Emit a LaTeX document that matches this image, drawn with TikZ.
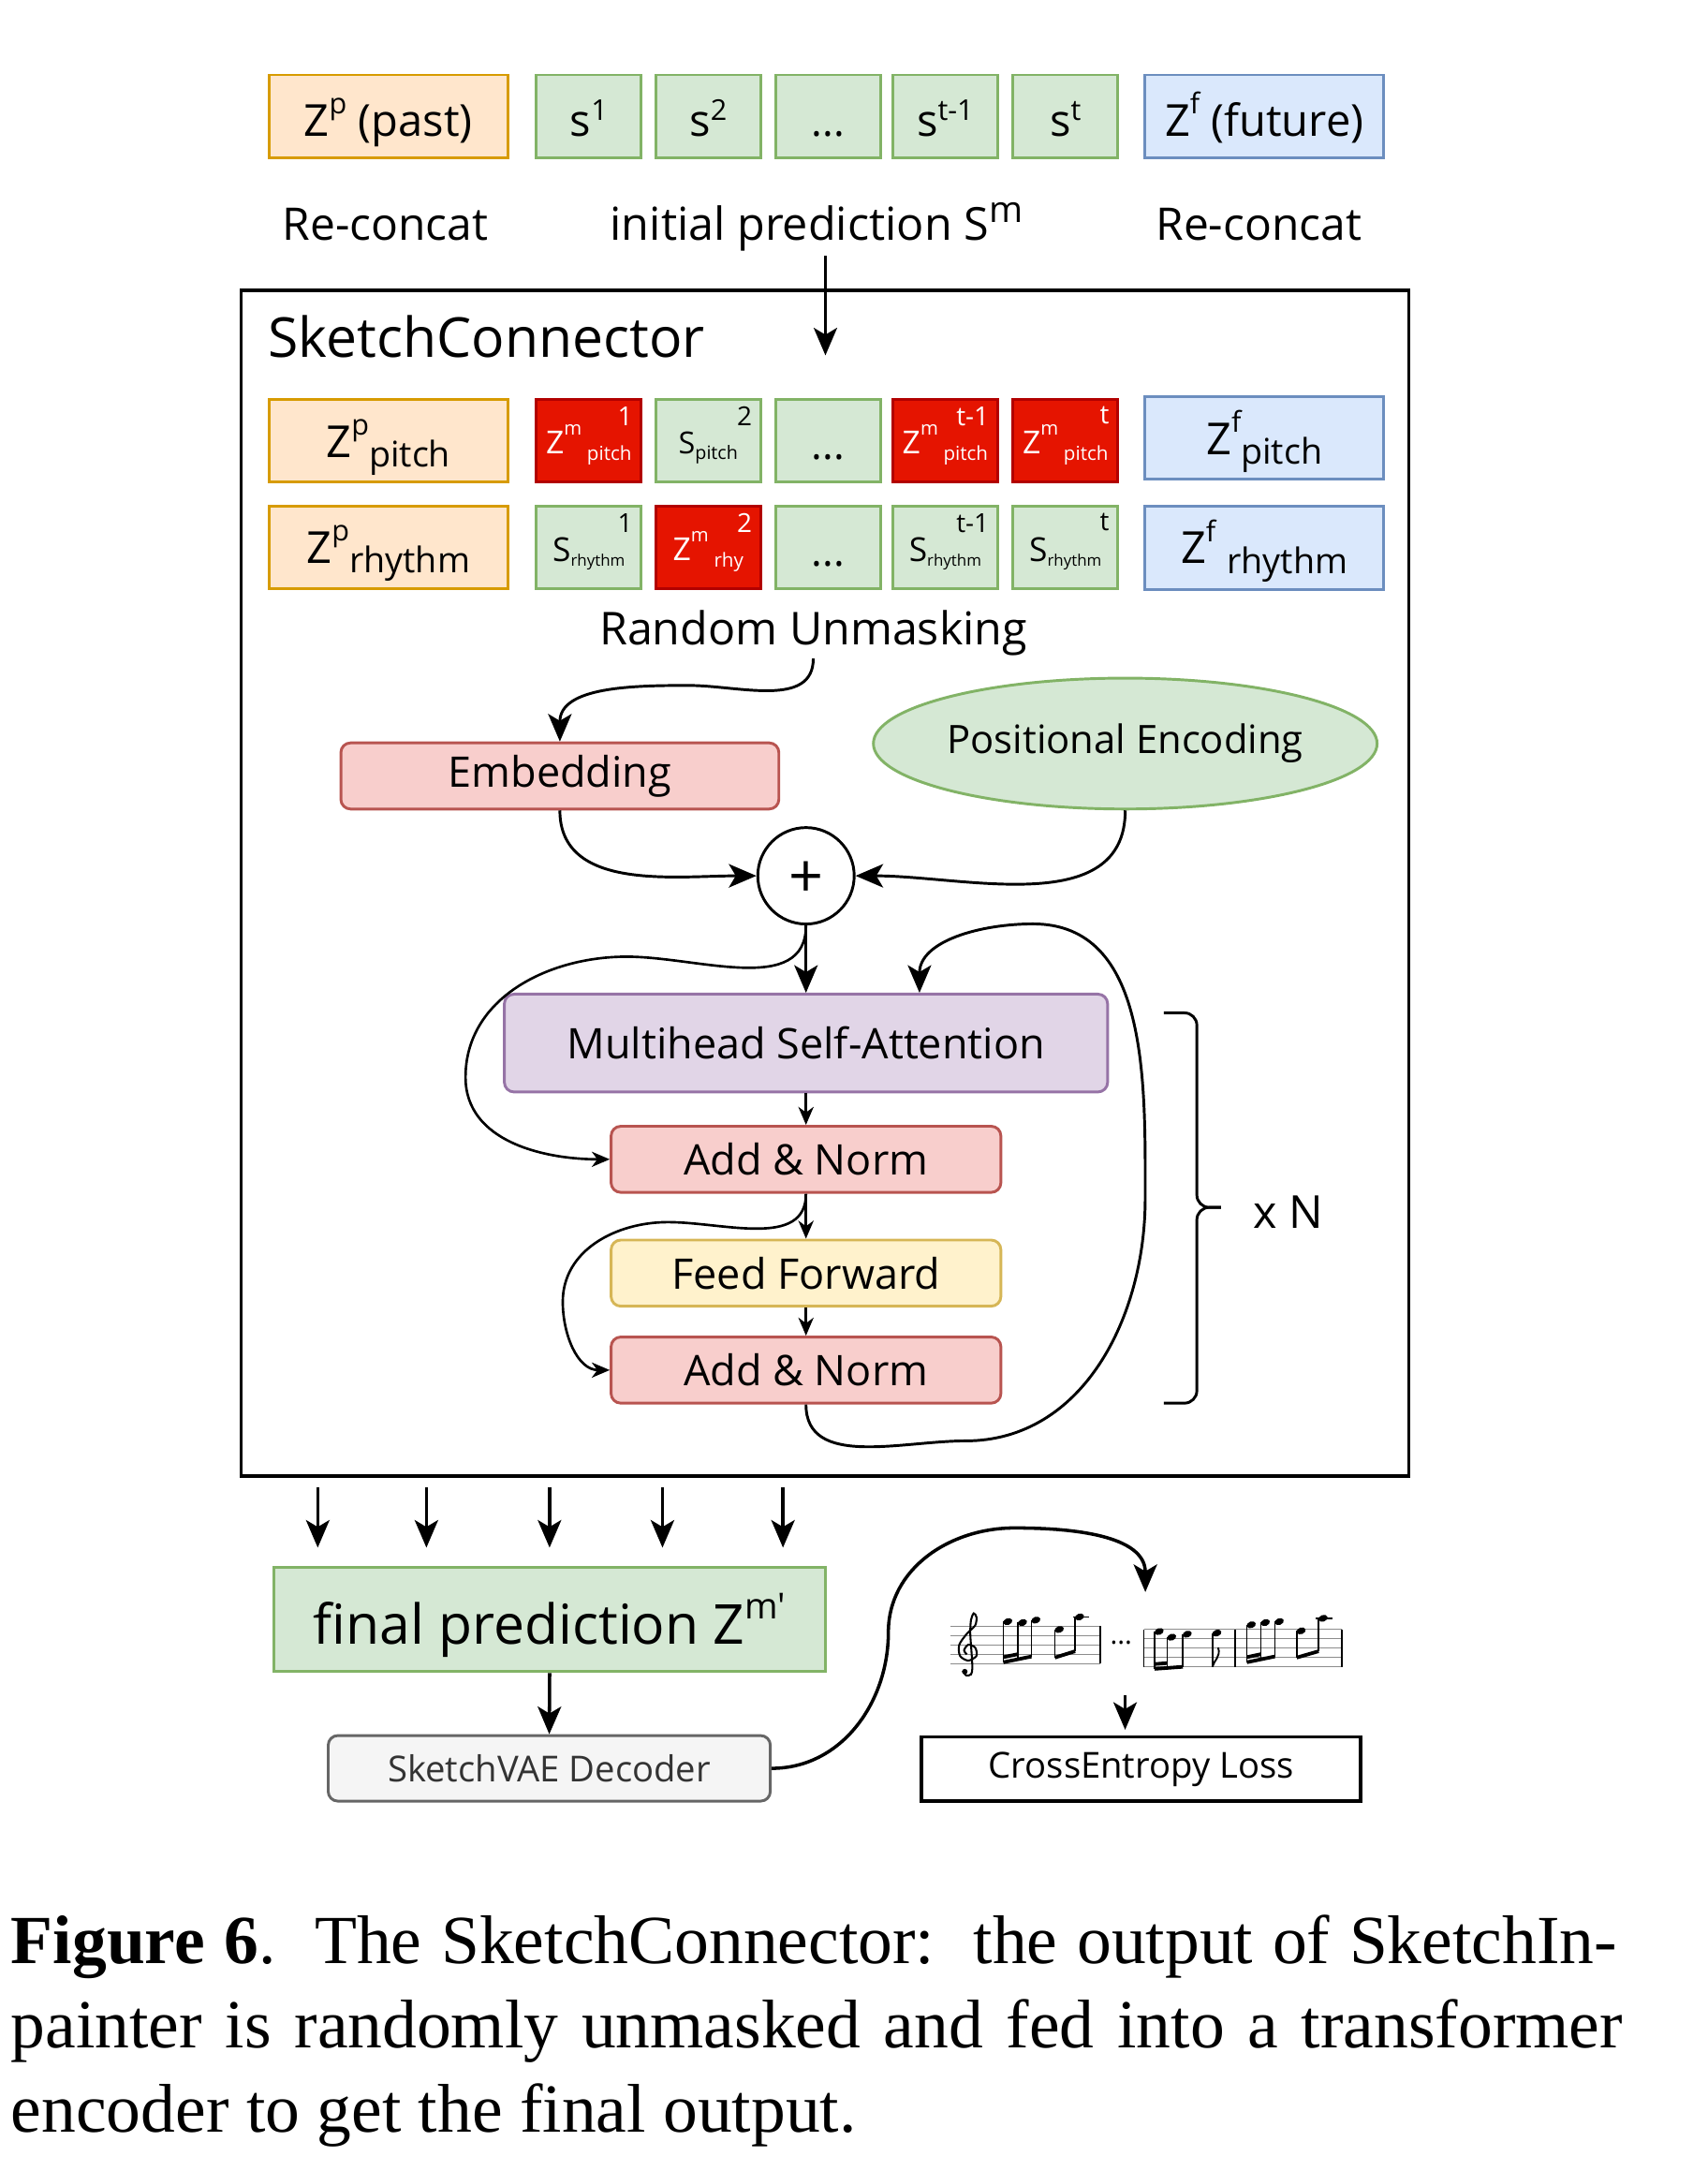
\documentclass[tikz,border=0pt]{standalone}
\usepackage{fontspec}
\usepackage{graphicx}
\setmainfont{Open Sans}
\newfontfamily\capfont{Liberation Serif}
\usetikzlibrary{arrows.meta,positioning,shapes.geometric}

\newcommand\fs[1]{\fontsize{#1}{#1}\selectfont}
\newcommand\upr[3][0.65]{\raisebox{#2}{\scalebox{#1}{#3}}}
\newcommand\lowr[1]{\raisebox{-0.22em}{\scalebox{0.8}{#1}}}
\newcommand\zm{Z\raisebox{0.6em}{\scalebox{0.6}{m}}}
\tikzset{
    cell/.style={draw,line width=2pt,inner sep=0pt,minimum height=60pt,text depth=0pt},
    pastbox/.style={cell,fill=pastfill,draw=pastline,minimum width=173.5pt,font=\fs{32}},
    futbox/.style={cell,fill=futfill,draw=futline,minimum width=173.5pt,font=\fs{32}},
    tokbox/.style={cell,fill=tokfill,draw=tokline,minimum width=76pt,font=\fs{22}},
    mskbox/.style={cell,fill=mskfill,draw=mskline,minimum width=76pt,font=\fs{23},text=white},
    idx/.style={label={[anchor=north east,inner sep=0pt,xshift=-7pt,yshift=-6pt,font=\fs{19},text=black]north east:#1}},
    widx/.style={label={[anchor=north east,inner sep=0pt,xshift=-7pt,yshift=-6pt,font=\fs{19},text=white]north east:#1}},
    layer/.style={draw,line width=2pt,rounded corners=7pt,inner sep=0pt,minimum height=48pt,font=\fs{30.6}},
    caption/.style={anchor=base west,inner sep=0pt,font=\capfont\fontsize{50}{60}\selectfont},
    arr/.style={line width=2pt,-{Stealth[length=20pt,width=17pt,inset=5pt]}},
    sarr/.style={line width=1.8pt,-{Stealth[length=13pt,width=11pt,inset=4pt]}}
}

\begin{document}
\begin{tikzpicture}[x=1pt,y=1pt]
    \definecolor{pastfill}{HTML}{FFE6CC}
    \definecolor{pastline}{HTML}{D79B00}
    \definecolor{futfill}{HTML}{DAE8FC}
    \definecolor{futline}{HTML}{6C8EBF}
    \definecolor{tokfill}{HTML}{D5E8D4}
    \definecolor{tokline}{HTML}{82B366}
    \definecolor{mskfill}{HTML}{E51400}
    \definecolor{mskline}{HTML}{B20000}
    \definecolor{embfill}{HTML}{F8CECC}
    \definecolor{embline}{HTML}{B85450}
    \definecolor{msafill}{HTML}{E1D5E7}
    \definecolor{msaline}{HTML}{9673A6}
    \definecolor{fffill}{HTML}{FFF2CC}
    \definecolor{ffline}{HTML}{D6B656}
    \definecolor{decfill}{HTML}{F5F5F5}
    \definecolor{decline}{HTML}{666666}
    \definecolor{dectext}{HTML}{333333}

    \useasboundingbox (0,0) rectangle (1240,1576);

    \node [pastbox,text height=28.6pt] (zpast) at (282,1491.6) {Z\upr{0.5em}{p} (past)};
    \node [tokbox,font=\fs{32},text height=28.6pt] (s1) at (427.5,1491.6) {s\upr{0.36em}{1}};
    \node [tokbox,font=\fs{32},text height=28.6pt] (s2) at (514.2,1491.6) {s\upr{0.36em}{2}};
    \node [tokbox,font=\fs{30},text height=28.6pt] (s3) at (601.2,1491.6) {...};
    \node [tokbox,font=\fs{32},text height=28.6pt] (s4) at (686.3,1491.6) {s\upr{0.36em}{t-1}};
    \node [tokbox,font=\fs{32},text height=28.6pt] (s5) at (773.6,1491.6) {s\upr{0.36em}{t}};
    \node [futbox,text height=28.6pt] (zfut) at (918,1491.6) {Z\upr{0.5em}{f} (future)};

    \node [font=\fs{32.6},anchor=base] (reL) at (279.7,1401.5) {Re-concat};
    \node [font=\fs{33},anchor=base] (init) at (592.8,1401.5) {initial prediction S\upr[0.8]{0.39em}{m}};
    \node [font=\fs{32.6},anchor=base] (reR) at (913.9,1401.5) {Re-concat};

    \node [draw,line width=2.4pt,minimum width=848pt,minimum height=860.8pt] (conn) at (599,934.9) {};
    \node [font=\fs{40},anchor=base west,inner sep=0pt] (title) at (194.6,1316.5) {SketchConnector};
    \coordinate (inTip) at (599.3,1318);
    \draw [arr] (init.south -| inTip) -- (inTip);

    \node [pastbox,text height=24pt] (zpP) at (282,1256) {Z\upr{0.5em}{p}\lowr{pitch}};
    \node [mskbox,text height=19.4pt,widx=1] (p1) at (427.5,1256) {\zm\,\raisebox{-4.5pt}{\fs{14}pitch}};
    \node [tokbox,text height=19.4pt,idx=2] (p2) at (514.2,1256) {S\raisebox{-4pt}{\fs{13.4}pitch}};
    \node [tokbox,font=\fs{30},text height=27pt] (p3) at (601.2,1256) {...};
    \node [mskbox,text height=19.4pt,widx=t-1] (p4) at (686.3,1256) {\zm\,\raisebox{-4.5pt}{\fs{14}pitch}};
    \node [mskbox,text height=19.4pt,widx=t] (p5) at (773.6,1256) {\zm\,\raisebox{-4.5pt}{\fs{14}pitch}};
    \node [futbox,text height=24pt] (zfP) at (918,1258) {Z\upr{0.5em}{f}\lowr{pitch}};

    \node [pastbox,text height=22.6pt] (zpR) at (282,1178.5) {Z\upr{0.5em}{p}\lowr{rhythm}};
    \node [tokbox,font=\fs{24},text height=20.6pt,idx=1] (r1) at (427.5,1178.5) {S\raisebox{-3pt}{\fs{11.5}rhythm}};
    \node [mskbox,text height=19.4pt,widx=2] (r2) at (514.2,1178.5) {\zm\,\raisebox{-4.5pt}{\fs{14}rhy}};
    \node [tokbox,font=\fs{30},text height=27pt] (r3) at (601.2,1178.5) {...};
    \node [tokbox,font=\fs{24},text height=20.6pt,idx=t-1] (r4) at (686.3,1178.5) {S\raisebox{-3pt}{\fs{11.5}rhythm}};
    \node [tokbox,font=\fs{24},text height=20.6pt,idx=t] (r5) at (773.6,1178.5) {S\raisebox{-3pt}{\fs{11.5}rhythm}};
    \node [futbox,text height=22.6pt] (zfR) at (918,1178.2) {Z\upr{0.5em}{f} \lowr{rhythm}};

    \node [font=\fs{32.9},inner sep=2pt,anchor=base] (unmask) at (590.5,1108) {Random Unmasking};

    \node [layer,fill=embfill,draw=embline,minimum width=318pt] (emb) at (406.5,1012.7) {Embedding};
    \node [ellipse,fill=tokfill,draw=tokline,line width=2pt,minimum width=359pt,minimum height=95pt,inner sep=0pt,font=\fs{28.4}] (pe) at (817,1036.2) {Positional Encoding};
    \node [circle,draw,line width=2pt,minimum size=70pt,inner sep=0pt,font=\fs{44},text height=31.6pt,text depth=0pt] (plus) at (585.2,940.2) {+};
    \node [layer,fill=msafill,draw=msaline,minimum width=438pt,minimum height=71pt] (msa) at (585.2,818.8) {Multihead Self-Attention};
    \node [layer,fill=embfill,draw=embline,minimum width=283pt] (an1) at (585.2,734.4) {Add \& Norm};
    \node [layer,fill=fffill,draw=ffline,minimum width=283pt] (ff) at (585.2,651.8) {Feed Forward};
    \node [layer,fill=embfill,draw=embline,minimum width=283pt] (an2) at (585.2,581.4) {Add \& Norm};

    \draw [arr] (unmask.south) to [out=-90,in=0] (500,1078.4) to [out=180,in=90] (emb.north);
    \draw [arr] (emb.south) to [out=-90,in=180] (plus.west);
    \draw [arr] (pe.south) to [out=-90,in=0] (plus.east);
    \draw [arr] (plus.south) -- (msa.north);
    \draw [sarr] (plus.south) to [out=-90,in=0] (455,881.5) to [out=180,in=90] (338,794) to [out=-90,in=180] (an1.west);
    \draw [sarr] (msa.south) -- (an1.north);
    \draw [sarr] (an1.south) -- (ff.north);
    \draw [sarr] (ff.south) -- (an2.north);
    \draw [sarr] (an1.south) to [out=-90,in=0] (485,688.8) to [out=180,in=90] (408.6,631) to [out=-90,in=180] (an2.west);
    \draw [arr] (an2.south) to [out=-90,in=180] (701,530) to [out=0,in=-90] (831.5,706)
        to [out=90,in=0] (750,905.3) to [out=180,in=90] ([xshift=82.4pt]msa.north);

    \draw [line width=2pt,rounded corners=9pt] (845,840.7) -- (869,840.7) -- (869,699.5) -- (886.5,699.5);
    \draw [line width=2pt,rounded corners=9pt] (886.5,699.5) -- (869,699.5) -- (869,557.4) -- (845,557.4);
    \node [font=\fs{33},anchor=base west,inner sep=0pt] (rep) at (910,684.3) {x N};

    \node [cell,fill=tokfill,draw=tokline,minimum width=400.6pt,minimum height=76pt,font=\fs{40},text height=36pt] (fin) at (399.1,400.5) {final prediction Z\upr[0.65]{0.45em}{m\textquotesingle}};
    \foreach \x in {230.7,309.6,399,481,568.5}
        \draw [arr,line width=2.4pt] ([yshift=-7pt]conn.south -| \x,0) -- ([yshift=13pt]fin.north -| \x,0);
    \node [layer,fill=decfill,draw=decline,text=dectext,minimum width=321pt,minimum height=47.6pt,font=\fs{26}] (dec) at (398.8,292.3) {SketchVAE Decoder};
    \draw [arr,line width=2.4pt] (fin.south) -- (dec.north);

    \node [draw,line width=2.5pt,minimum width=318.8pt,minimum height=46.5pt,inner sep=0pt,font=\fs{26}] (loss) at (828.6,291.8) {CrossEntropy Loss};
    \coordinate (scoreTip) at (831.6,420.3);
    \coordinate (scoreBot) at (816.9,345.5);
    \draw [arr,line width=2.4pt] (dec.east) to [out=0,in=-90] (645,391) to [out=90,in=180] (736.5,466.8) to [out=0,in=90] (scoreTip);
    \draw [arr,shorten >=4pt] (scoreBot) -- (scoreBot |- loss.north);

    \begin{scope}[line width=0.9pt,draw=black!45]
        \foreach \y in {368.2,375,381.8,388.6,395.4}
            \draw (690,\y) -- (798.8,\y);
        \foreach \y in {365.9,372.7,379.5,386.3,393.1}
            \draw (830.5,\y) -- (974.4,\y);
    \end{scope}
    \draw [line width=1.2pt] (798.8,368.2) -- (798.8,395.4);
    \foreach \x in {830.5,896.9,974.4}
        \draw [line width=1.2pt] (\x,365.9) -- (\x,393.1);
    \draw [line width=1.4pt] plot [smooth] coordinates {(699,363) (701.5,359.8) (705,360.5) (706,365) (705.5,375) (704.5,390)
        (705,400) (707,404.8) (709,402) (708,396) (702,390) (696.5,382) (697,374) (703,370.5) (709,374) (708,380) (703,382) (700,378) (702,375)};
    \fill (700.5,362.5) circle (2pt);
    \foreach \x/\y in {731.7/398.8,742.4/398.1,752.1/399.9,769.1/393.1,783.8/402.2,841.6/391.6,850.7/387.5,862/389.7,
        883.5/390.5,908.5/396.5,918.7/398.1,928.8/398.8,944.7/392.1,960.6/401.2}
        \fill [rotate around={20:(\x,\y)}] (\x,\y) ellipse (3.4pt and 2.4pt);
    \foreach \x/\a/\b in {728.5/398.8/369.3,739.2/398.1/371.5,748.9/399.9/373.5,765.9/393.1/372.7,780.6/402.2/377.3,
        838.4/391.6/364.5,847.5/387.5/365.2,858.8/389.7/366,880.3/390.5/366,905.3/396.5/369.3,915.5/398.1/371.5,
        925.6/398.8/373.5,941.5/392.1/372.7,957.4/401.2/377.3}
        \draw [line width=1.1pt] (\x,\a) -- (\x,\b);
    \draw [line width=2.6pt] (728.5,369.3) -- (748.9,373.5) (728.5,373) -- (739.2,375.2)
        (765.9,372.7) -- (780.6,377.3) (838.4,364.5) -- (858.8,366) (838.4,368) -- (847.5,368.7)
        (905.3,369.3) -- (925.6,373.5) (905.3,373) -- (915.5,375.2) (941.5,372.7) -- (957.4,377.3);
    \draw [line width=1.1pt] (779,402.2) -- (791,402.2) (955.5,401.2) -- (967.5,401.2);
    \draw [line width=1.3pt] (880.3,366) .. controls (881.5,371) and (886.5,373) .. (884.5,380);
    \node [font=\fs{20},inner sep=0pt] (gap) at (814,383.6) {...};

    \node [caption] (cap1) at (7.9,150.6) {\makebox[1166pt][s]{\textbf{Figure 6}.\ \ The SketchConnector:\ \ the output of SketchIn-}};
    \node [caption] (cap2) at (7.9,89.5) {\makebox[1170pt][s]{painter is randomly unmasked and fed into a transformer}};
    \node [caption] (cap3) at (7.9,28.3) {encoder to get the final output.};
\end{tikzpicture}
\end{document}
